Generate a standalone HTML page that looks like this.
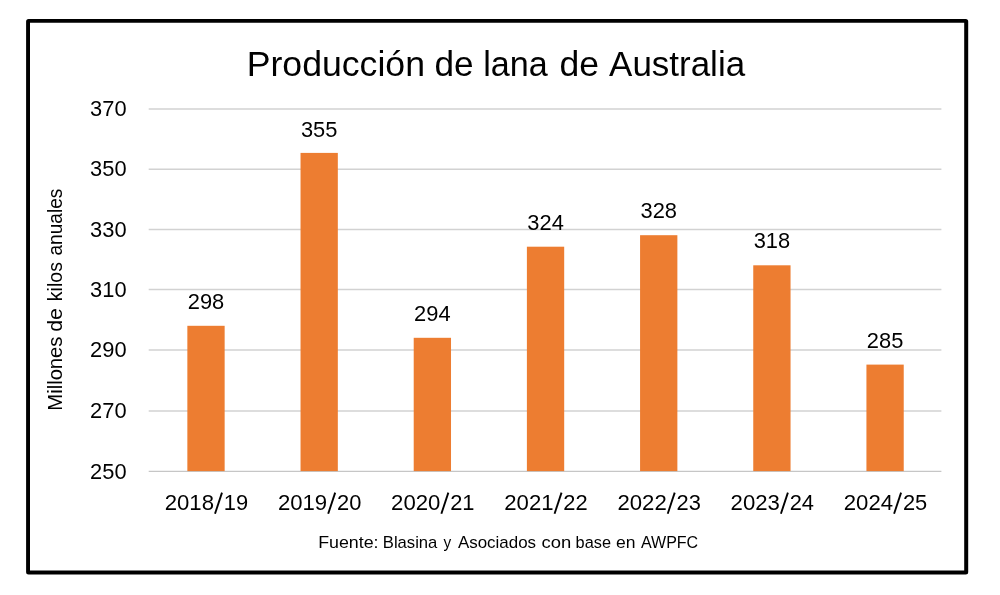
<!DOCTYPE html>
<html><head><meta charset="utf-8"><title>Producción de lana de Australia</title>
<style>
html,body{margin:0;padding:0;background:#fff;}
body{width:1000px;height:595px;overflow:hidden;position:relative;font-family:"Liberation Sans",sans-serif;}
svg{position:absolute;left:0;top:0;}
text{font-family:"Liberation Sans",sans-serif;fill:#000;}
</style></head><body>
<svg width="1000" height="595" viewBox="0 0 1000 595">
<path fill="#000" fill-rule="evenodd" d="M28.6 19 H965.7 a2.5 2.5 0 0 1 2.5 2.5 V571.9 a2.5 2.5 0 0 1 -2.5 2.5 H28.6 a2.5 2.5 0 0 1 -2.5 -2.5 V21.5 a2.5 2.5 0 0 1 2.5 -2.5 Z M30 22.65 V570.4 H964.2 V22.65 Z"/>
<g stroke="#D2D2D2" stroke-width="1.5">
<line x1="148.7" x2="941.4" y1="410.90" y2="410.90"/>
<line x1="148.7" x2="941.4" y1="349.95" y2="349.95"/>
<line x1="148.7" x2="941.4" y1="289.62" y2="289.62"/>
<line x1="148.7" x2="941.4" y1="229.45" y2="229.45"/>
<line x1="148.7" x2="941.4" y1="169.20" y2="169.20"/>
<line x1="148.7" x2="941.4" y1="108.92" y2="108.92"/>
</g>
<g stroke="#C6C6C6" stroke-width="1.15"><line x1="148.7" x2="941.4" y1="471.35" y2="471.35"/></g>
<g fill="#ED7D31">
<rect x="187.35" y="325.80" width="37.3" height="145.30"/>
<rect x="300.53" y="152.90" width="37.3" height="318.20"/>
<rect x="413.71" y="337.80" width="37.3" height="133.30"/>
<rect x="526.89" y="246.70" width="37.3" height="224.40"/>
<rect x="640.07" y="235.20" width="37.3" height="235.90"/>
<rect x="753.25" y="265.30" width="37.3" height="205.80"/>
<rect x="866.43" y="364.60" width="37.3" height="106.50"/>
</g>
<g style="will-change:transform;opacity:0.999">
<text transform="translate(246.66 75.5) scale(1.0279 1)" font-size="34.7" text-anchor="start">Producción</text>
<text transform="translate(434.46 75.5) scale(1.0143 1)" font-size="34.7" text-anchor="start">de</text>
<text transform="translate(483.16 75.5) scale(0.9840 1)" font-size="34.7" text-anchor="start">lana</text>
<text transform="translate(559.52 75.5) scale(1.0229 1)" font-size="34.7" text-anchor="start">de</text>
<text transform="translate(609.06 75.5) scale(1.0079 1)" font-size="34.7" text-anchor="start">Australia</text>
<text transform="translate(108.30 478.55) rotate(0) scale(0.995 1)" font-size="22" text-anchor="middle">250</text>
<text transform="translate(108.30 418.10) rotate(0) scale(0.995 1)" font-size="22" text-anchor="middle">270</text>
<text transform="translate(108.30 357.15) rotate(0) scale(0.995 1)" font-size="22" text-anchor="middle">290</text>
<text transform="translate(108.30 296.82) rotate(0) scale(0.995 1)" font-size="22" text-anchor="middle">310</text>
<text transform="translate(108.30 236.65) rotate(0) scale(0.995 1)" font-size="22" text-anchor="middle">330</text>
<text transform="translate(108.30 176.40) rotate(0) scale(0.995 1)" font-size="22" text-anchor="middle">350</text>
<text transform="translate(108.30 116.12) rotate(0) scale(0.995 1)" font-size="22" text-anchor="middle">370</text>
<text transform="translate(214.00 510.20) rotate(0) scale(1.026 1)" font-size="21.6" text-anchor="end">2018</text>
<text transform="translate(223.80 510.20) rotate(0) scale(1.013 1)" font-size="21.6" text-anchor="start">19</text>
<line x1="215.00" y1="513.70" x2="222.00" y2="492.60" stroke="#000" stroke-width="1.9"/>
<text transform="translate(327.18 510.20) rotate(0) scale(1.026 1)" font-size="21.6" text-anchor="end">2019</text>
<text transform="translate(336.98 510.20) rotate(0) scale(1.013 1)" font-size="21.6" text-anchor="start">20</text>
<line x1="328.18" y1="513.70" x2="335.18" y2="492.60" stroke="#000" stroke-width="1.9"/>
<text transform="translate(440.36 510.20) rotate(0) scale(1.026 1)" font-size="21.6" text-anchor="end">2020</text>
<text transform="translate(450.16 510.20) rotate(0) scale(1.013 1)" font-size="21.6" text-anchor="start">21</text>
<line x1="441.36" y1="513.70" x2="448.36" y2="492.60" stroke="#000" stroke-width="1.9"/>
<text transform="translate(553.54 510.20) rotate(0) scale(1.026 1)" font-size="21.6" text-anchor="end">2021</text>
<text transform="translate(563.34 510.20) rotate(0) scale(1.013 1)" font-size="21.6" text-anchor="start">22</text>
<line x1="554.54" y1="513.70" x2="561.54" y2="492.60" stroke="#000" stroke-width="1.9"/>
<text transform="translate(666.72 510.20) rotate(0) scale(1.026 1)" font-size="21.6" text-anchor="end">2022</text>
<text transform="translate(676.52 510.20) rotate(0) scale(1.013 1)" font-size="21.6" text-anchor="start">23</text>
<line x1="667.72" y1="513.70" x2="674.72" y2="492.60" stroke="#000" stroke-width="1.9"/>
<text transform="translate(779.90 510.20) rotate(0) scale(1.026 1)" font-size="21.6" text-anchor="end">2023</text>
<text transform="translate(789.70 510.20) rotate(0) scale(1.013 1)" font-size="21.6" text-anchor="start">24</text>
<line x1="780.90" y1="513.70" x2="787.90" y2="492.60" stroke="#000" stroke-width="1.9"/>
<text transform="translate(893.08 510.20) rotate(0) scale(1.026 1)" font-size="21.6" text-anchor="end">2024</text>
<text transform="translate(902.88 510.20) rotate(0) scale(1.013 1)" font-size="21.6" text-anchor="start">25</text>
<line x1="894.08" y1="513.70" x2="901.08" y2="492.60" stroke="#000" stroke-width="1.9"/>
<text transform="translate(206.00 309.30) rotate(0) scale(0.995 1)" font-size="22" text-anchor="middle">298</text>
<text transform="translate(319.18 136.60) rotate(0) scale(0.995 1)" font-size="22" text-anchor="middle">355</text>
<text transform="translate(432.36 320.70) rotate(0) scale(0.995 1)" font-size="22" text-anchor="middle">294</text>
<text transform="translate(545.54 230.20) rotate(0) scale(0.995 1)" font-size="22" text-anchor="middle">324</text>
<text transform="translate(658.72 218.00) rotate(0) scale(0.995 1)" font-size="22" text-anchor="middle">328</text>
<text transform="translate(771.90 247.90) rotate(0) scale(0.995 1)" font-size="22" text-anchor="middle">318</text>
<text transform="translate(885.08 348.00) rotate(0) scale(0.995 1)" font-size="22" text-anchor="middle">285</text>
<text transform="translate(318.16 548.3) scale(1.0610 1)" font-size="16.8" text-anchor="start">Fuente:</text>
<text transform="translate(382.78 548.3) scale(0.9912 1)" font-size="16.8" text-anchor="start">Blasina</text>
<text transform="translate(443.50 548.3) scale(0.9200 1)" font-size="16.8" text-anchor="start">y</text>
<text transform="translate(457.92 548.3) scale(1.0084 1)" font-size="16.8" text-anchor="start">Asociados</text>
<text transform="translate(541.62 548.3) scale(1.0978 1)" font-size="16.8" text-anchor="start">con</text>
<text transform="translate(575.62 548.3) scale(0.9728 1)" font-size="16.8" text-anchor="start">base</text>
<text transform="translate(616.00 548.3) scale(1.0442 1)" font-size="16.8" text-anchor="start">en</text>
<text transform="translate(640.92 548.3) scale(0.9544 1)" font-size="16.8" text-anchor="start">AWPFC</text>
<text transform="translate(62.3 410.68) rotate(-90) scale(1.0315 1)" font-size="19.6" text-anchor="start">Millones</text>
<text transform="translate(62.3 331.84) rotate(-90) scale(1.0881 1)" font-size="19.6" text-anchor="start">de</text>
<text transform="translate(62.3 301.22) rotate(-90) scale(0.9988 1)" font-size="19.6" text-anchor="start">kilos</text>
<text transform="translate(62.3 255.50) rotate(-90) scale(0.9750 1)" font-size="19.6" text-anchor="start">anuales</text>
</g>
</svg></body></html>
